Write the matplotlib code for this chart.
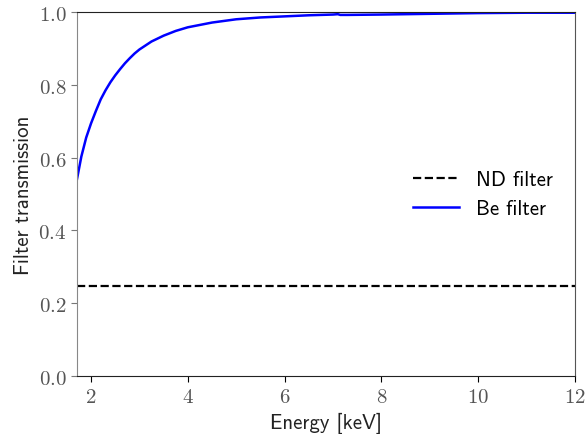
import os
import matplotlib
matplotlib.use("Agg")
import matplotlib.pyplot as plt
from matplotlib.font_manager import FontProperties

plt.rcParams["mathtext.fontset"] = "cm"

# Computer Modern sans ships with matplotlib
cmss = os.path.join(matplotlib.get_data_path(), "fonts", "ttf", "cmss10.ttf")
label_font = FontProperties(fname=cmss, size=15)

# Be filter transmission vs photon energy
energy_be = [1.71, 1.8, 1.9, 2.0, 2.1, 2.2, 2.3, 2.4, 2.5, 2.6, 2.7, 2.8,
             2.9, 3.0, 3.25, 3.5, 3.75, 4.0, 4.5, 5.0, 5.5, 6.0, 6.5, 7.0,
             7.1, 7.15, 7.3, 8.0, 9.0, 10.0, 11.0, 12.0]
trans_be = [0.541, 0.603, 0.655, 0.694, 0.728, 0.760, 0.785, 0.807, 0.826,
            0.843, 0.859, 0.873, 0.886, 0.897, 0.919, 0.935, 0.948, 0.958,
            0.971, 0.980, 0.985, 0.988, 0.991, 0.993, 0.994, 0.992, 0.992,
            0.993, 0.995, 0.997, 0.998, 0.998]

# ND filter is flat across the band
energy_nd = [1.71, 12.0]
trans_nd = [0.247, 0.247]

x_ticks = [2, 4, 6, 8, 10, 12]
y_ticks = [0.0, 0.2, 0.4, 0.6, 0.8, 1.0]

fig = plt.figure(figsize=(5.87, 4.35), dpi=100)
ax = fig.add_axes([77 / 587, 1 - 377 / 435, 498 / 587, 364 / 435])

ax.plot(energy_nd, trans_nd, "k--", lw=1.6, label="ND filter")
ax.plot(energy_be, trans_be, color="blue", lw=1.8, label="Be filter")

ax.set_xlim(1.71, 12)
ax.set_ylim(0, 1)
ax.set_xticks(x_ticks)
ax.set_xticklabels([f"${t}$" for t in x_ticks])
ax.set_yticks(y_ticks)
ax.set_yticklabels([f"${t:.1f}$" for t in y_ticks])
ax.tick_params(labelsize=15, labelcolor="#555555", length=4)
ax.tick_params(axis="y", color="#777777")

ax.spines["left"].set_color("#888888")
ax.spines["right"].set_color("#555555")
ax.spines["top"].set_color("#222222")
ax.spines["bottom"].set_color("#222222")

ax.set_xlabel("Energy [keV]", fontproperties=label_font, color="#222222")
ax.set_ylabel("Filter transmission", fontproperties=label_font, color="#222222")

ax.legend(frameon=False, prop=label_font, loc="center",
          bbox_to_anchor=(0.815, 0.5), handlelength=2.2)

fig.savefig("out.png", dpi=100)
